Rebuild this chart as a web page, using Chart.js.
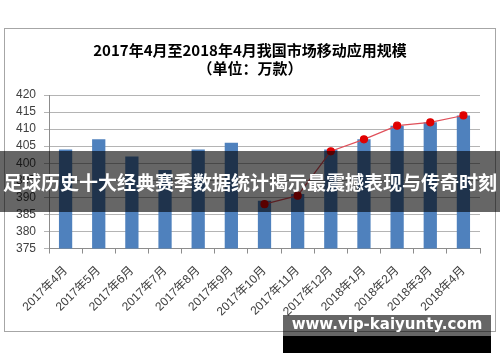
<!DOCTYPE html>
<html>
<head>
<meta charset="utf-8">
<script src="https://cdn.jsdelivr.net/npm/chart.js@4/dist/chart.umd.min.js"></script>
<style>
  body { margin: 0; background: #fff; }
  #wrap { position: relative; width: 500px; height: 362px; overflow: hidden; }
  #chart { position: absolute; left: 0; top: 0; }
  #frame { position: absolute; left: 4px; top: 28px; width: 490px; height: 302px; border: 1px solid #a6a6a6; }
  #banner { position: absolute; left: 0; top: 151px; width: 500px; height: 61px; background: rgba(0,0,0,0.6);
            color: #fff; font: bold 19px "Noto Sans CJK SC", sans-serif; line-height: 61px; text-align: center; white-space: nowrap; }
  #markTop { position: absolute; left: 283px; top: 315px; width: 208px; height: 21px; background: rgba(0,0,0,0.6); }
  #markBot { position: absolute; left: 283px; top: 336px; width: 208px; height: 17px; background: #000; }
  #markText { position: absolute; left: 283px; top: 315px; width: 208px; height: 43px; line-height: 43px; text-align: center;
              color: #fff; font: bold 15px "DejaVu Sans", sans-serif; white-space: nowrap; }
</style>
</head>
<body>
<div id="wrap">
  <div id="frame"></div>
  <canvas id="chart" width="500" height="362"></canvas>
  <div id="banner">足球历史十大经典赛季数据统计揭示最震撼表现与传奇时刻</div>
  <div id="markTop"></div>
  <div id="markBot"></div>
  <div id="markText">www.vip-kaiyunty.com</div>
</div>
<script>
// monthly app counts, 10k apps
const months = ["2017年4月", "2017年5月", "2017年6月", "2017年7月", "2017年8月", "2017年9月", "2017年10月",
                "2017年11月", "2017年12月", "2018年1月", "2018年2月", "2018年3月", "2018年4月"]
const appCounts = [404, 407, 402, 398, 404, 406, 389, 391, 404, 407, 411, 412, 414]
const trendCounts = [null, null, null, null, null, null, 388, 390.5, 403.5, 407, 411, 412, 414]

const font = "'Liberation Sans', 'Noto Sans CJK SC', sans-serif"

// keep the title centred on the whole page, not on the padded box
const centerTitle = {
    id: "centerTitle",
    afterLayout: (chart) => {
        if (chart.titleBlock) {
            chart.titleBlock.left = 0
            chart.titleBlock.right = chart.width
        }
    }
}

const ctx = document.getElementById("chart").getContext("2d")
new Chart(ctx, {
    type: "bar",
    data: {
        labels: months,
        datasets: [
            {
                type: "line",
                data: trendCounts,
                borderColor: "#e0505a",
                borderWidth: 1.2,
                pointBackgroundColor: "#e00000",
                pointBorderColor: "#e00000",
                pointRadius: 3.5,
                tension: 0,
                order: 0
            },
            {
                data: appCounts,
                backgroundColor: "#4f81bd",
                barPercentage: 0.8,
                categoryPercentage: 0.5,
                order: 1
            }
        ]
    },
    options: {
        responsive: false,
        devicePixelRatio: 1,
        animation: false,
        layout: { padding: { left: 14, right: 20, top: 31, bottom: 33 } },
        plugins: {
            legend: { display: false },
            tooltip: { enabled: false },
            title: {
                display: true,
                text: ["2017年4月至2018年4月我国市场移动应用规模", "（单位：万款）"],
                color: "#000",
                font: { family: "'Noto Sans CJK SC', sans-serif", size: 15, weight: "bold", lineHeight: 1.2 },
                padding: { top: 10, bottom: 18 }
            }
        },
        scales: {
            x: {
                // rotated first label should not push the plot to the right
                afterFit: (scale) => { scale.paddingLeft = 0 },
                grid: { offset: true, drawOnChartArea: false, tickLength: 5, color: "#8c8c8c" },
                border: { color: "#8c8c8c" },
                ticks: {
                    color: "#404040",
                    font: { family: font, size: 12 },
                    maxRotation: 45,
                    minRotation: 45,
                    autoSkip: false,
                    padding: 10
                }
            },
            y: {
                min: 375,
                max: 420,
                afterFit: (scale) => { scale.width = 35 },
                grid: { color: "#b4b4b4", tickLength: 5 },
                border: { color: "#8c8c8c" },
                ticks: {
                    stepSize: 5,
                    autoSkip: false,
                    color: "#404040",
                    font: { family: font, size: 12 },
                    padding: 8
                }
            }
        }
    },
    plugins: [centerTitle]
})
</script>
</body>
</html>
